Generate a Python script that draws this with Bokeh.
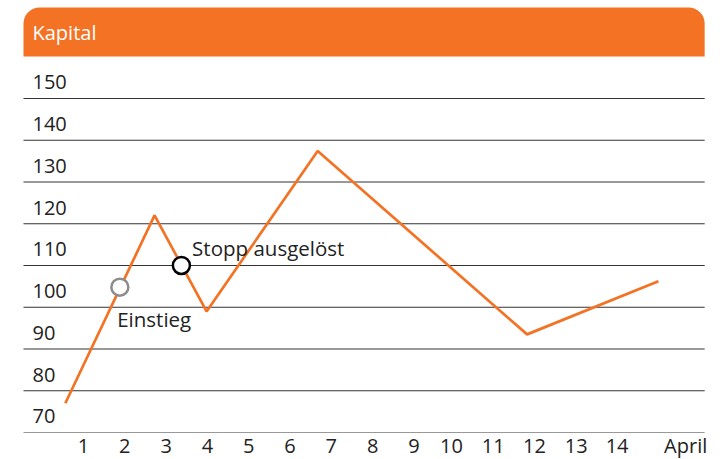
from bokeh.plotting import figure
from bokeh.models import Range1d, BoxAnnotation
from bokeh.core.properties import value
from bokeh.embed import file_html
from bokeh.resources import INLINE

# ---- data ----
title_text = "Kapital"
x_pos = [0.56, 2.72, 3.98, 6.67, 11.74, 14.92]
kapital = [77.0, 122.0, 99.0, 137.4, 93.5, 106.2]
entry_x = [1.88]
entry_y = [104.8]
stop_x = [3.37]
stop_y = [110.0]
entry_label = "Einstieg"
stop_label = "Stopp ausgelöst"
y_ticks = [70, 80, 90, 100, 110, 120, 130, 140, 150]
x_tick_pos = [1, 2, 3, 4, 5, 6, 7, 8, 9, 9.91, 10.92, 11.92, 12.93, 13.92, 15.58]
x_tick_labels = ["1", "2", "3", "4", "5", "6", "7", "8", "9", "10",
                 "11", "12", "13", "14", "April"]

ORANGE = "#F37224"
FONT = "Open Sans"
TXT_SHIFT = 1.85  # compensates baseline placement of svg text

p = figure(width=728, height=459, output_backend="svg", toolbar_location=None,
           x_axis_location=None, y_axis_location=None,
           x_range=Range1d(-1.0097, 16.617), y_range=Range1d(63.53, 173.47),
           min_border=0, min_border_left=0, min_border_right=0,
           min_border_top=0, min_border_bottom=0)
p.outline_line_color = None
p.xgrid.visible = False
p.ygrid.visible = False
p.background_fill_color = "white"

gx0, gx1 = -0.453, 16.04

# header bar
p.add_layout(BoxAnnotation(left=gx0, right=gx1, top=171.8, bottom=160.06,
                           fill_color=ORANGE, fill_alpha=1.0, line_alpha=0,
                           border_radius=(16, 16, 0, 0), level="underlay"))
p.text(x=[-0.235], y=[164.06 + TXT_SHIFT], text=[title_text], text_color="white",
       text_font=value(FONT), text_font_size="20px", text_baseline="alphabetic",
       text_align="left")

# horizontal lines
line_colors = ["#999999"] + ["#333333"] * (len(y_ticks) - 1)
p.segment(x0=[gx0] * len(y_ticks), x1=[gx1] * len(y_ticks), y0=y_ticks, y1=y_ticks,
          line_color=line_colors, line_width=1.2)

# y tick labels
p.text(x=[-0.235] * len(y_ticks), y=[v + 2.0 + TXT_SHIFT for v in y_ticks],
       text=[str(v) for v in y_ticks], text_color="#222222",
       text_font=value(FONT), text_font_size="20px",
       text_baseline="alphabetic", text_align="left")

# x tick labels
p.text(x=x_tick_pos, y=[64.97 + TXT_SHIFT] * len(x_tick_pos), text=x_tick_labels,
       text_color="#222222", text_font=value(FONT), text_font_size="20px",
       text_baseline="alphabetic", text_align="center")

# series
p.line(x_pos, kapital, line_color=ORANGE, line_width=2.7)

# markers
p.scatter(entry_x, entry_y, size=17, marker="circle", fill_color="white",
          line_color="#8c8c8c", line_width=2.5)
p.scatter(stop_x, stop_y, size=17, marker="circle", fill_color="white",
          line_color="#000000", line_width=2.5)

p.text(x=[1.815], y=[95.39 + TXT_SHIFT], text=[entry_label], text_color="#222222",
       text_font=value(FONT), text_font_size="20.5px", text_baseline="alphabetic",
       text_align="left")
p.text(x=[3.63], y=[112.4 + TXT_SHIFT], text=[stop_label], text_color="#222222",
       text_font=value(FONT), text_font_size="20.5px", text_baseline="alphabetic",
       text_align="left")

open("out.html", "w").write(file_html(p, INLINE))
